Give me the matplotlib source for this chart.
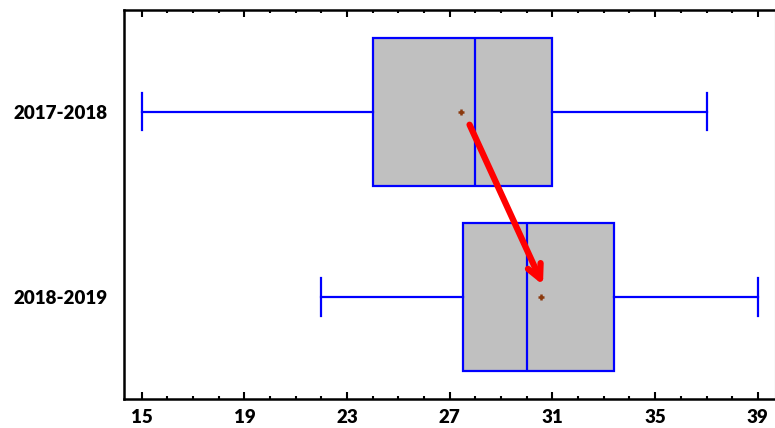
import matplotlib.pyplot as plt
from matplotlib.ticker import FixedLocator, MultipleLocator

plt.rcParams['font.family'] = ['Lato', 'DejaVu Sans']

# Daten
labels = ['2017-2018', '2018-2019']
whisker_low = [15, 22]
q1 = [24, 27.5]
median = [28, 30]
q3 = [31, 33.4]
whisker_high = [37, 39]
means = [27.45, 30.55]
positions = [2, 1]
x_ticks = [15, 19, 23, 27, 31, 35, 39]

stats = []
for i, lab in enumerate(labels):
    stats.append({
        'label': lab,
        'whislo': whisker_low[i],
        'q1': q1[i],
        'med': median[i],
        'q3': q3[i],
        'whishi': whisker_high[i],
        'mean': means[i],
        'fliers': [],
    })

fig = plt.figure(figsize=(7.75, 4.28), dpi=100)
ax = fig.add_axes([0.16, 0.068, 0.8394, 0.909])

blue = '#0000FF'
ax.bxp(stats, positions=positions, vert=False, widths=0.8, patch_artist=True,
       showmeans=True, capwidths=0.2,
       boxprops=dict(facecolor='#C0C0C0', edgecolor=blue, linewidth=1.6),
       medianprops=dict(color=blue, linewidth=1.6),
       whiskerprops=dict(color=blue, linewidth=1.6),
       capprops=dict(color=blue, linewidth=1.6),
       meanprops=dict(marker='+', markeredgecolor='#8B3A0F', markersize=5,
                      markeredgewidth=1.8))

# Pfeil von Mittelwert zu Mittelwert
ax.annotate('', xy=(30.63, 1.065), xytext=(27.77, 1.93),
            arrowprops=dict(arrowstyle='->,head_length=1.0,head_width=0.5',
                            color='#FF0000', lw=4.5, shrinkA=0, shrinkB=0))

ax.set_xlim(14.31, 39.65)
ax.set_ylim(0.45, 2.55)
ax.xaxis.set_major_locator(FixedLocator(x_ticks))
ax.xaxis.set_minor_locator(MultipleLocator(1))
ax.tick_params(axis='x', which='major', direction='in', top=True, length=5,
               width=1.5, labelsize=13.5, pad=7)
ax.tick_params(axis='x', which='minor', direction='in', top=True, length=2.5,
               width=1.5)
ax.tick_params(axis='y', length=0, labelsize=13.5, pad=12)
for lab in ax.get_xticklabels() + ax.get_yticklabels():
    lab.set_fontweight('heavy')

for s in ['left', 'bottom', 'top']:
    ax.spines[s].set_linewidth(1.8)
ax.spines['right'].set_color('#A0A0A0')
ax.spines['right'].set_linewidth(0.8)

plt.savefig('out.png', dpi=100)
